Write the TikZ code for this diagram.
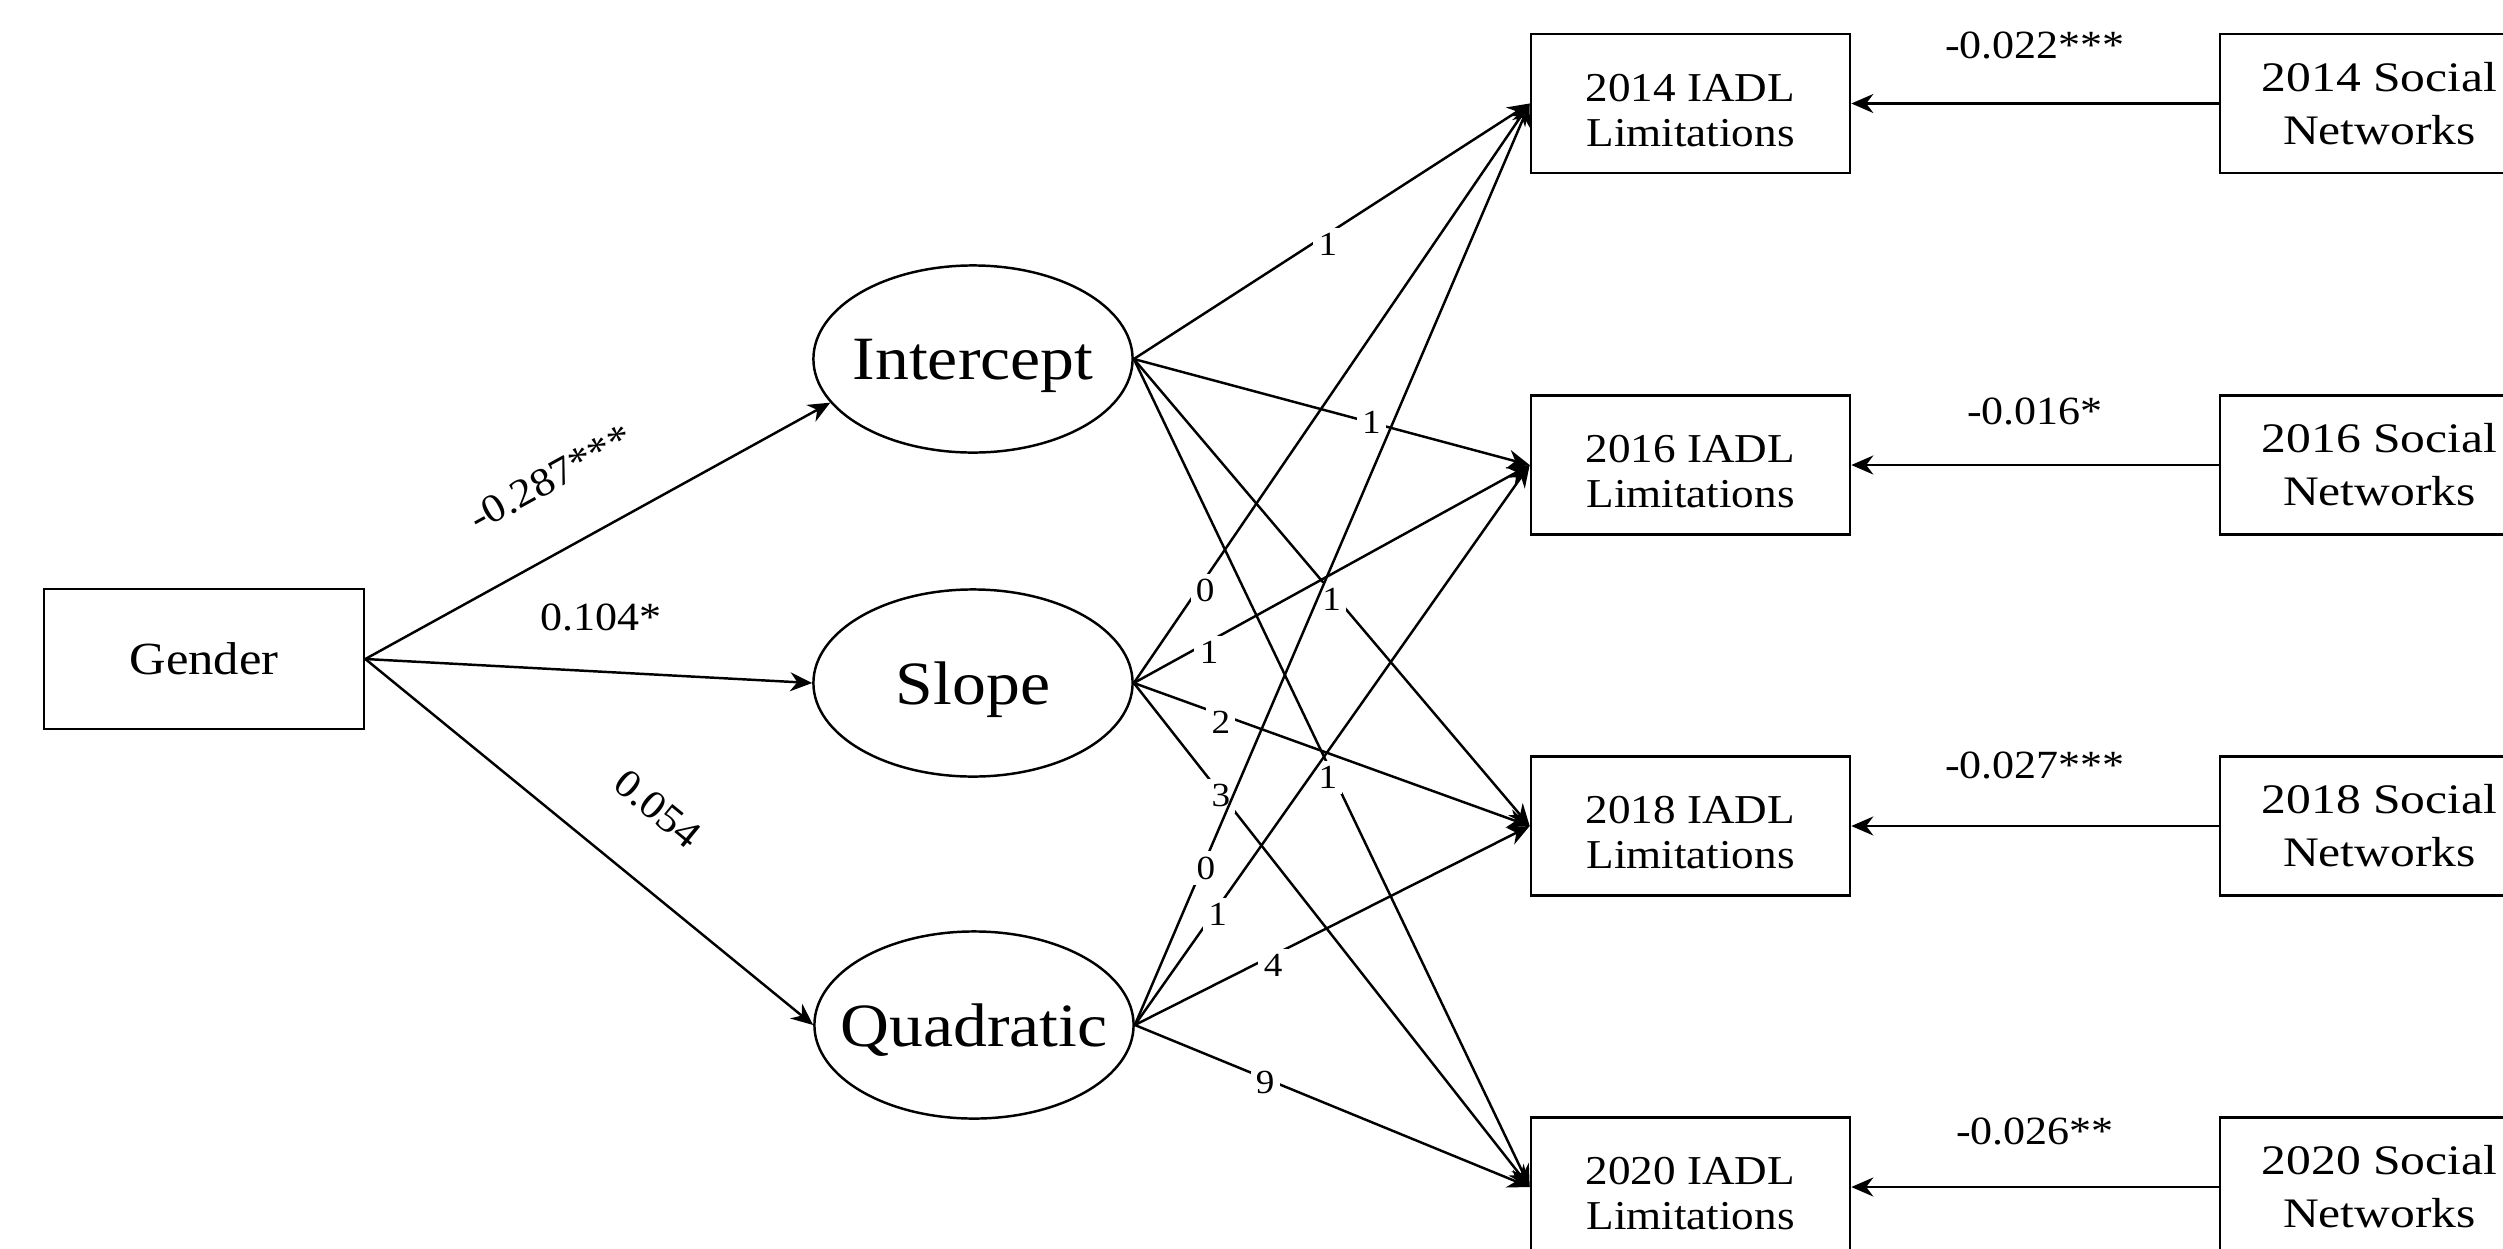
\documentclass[tikz,border=0pt]{standalone}
\usepackage{fontspec}
\setmainfont{Liberation Serif}[FakeStretch=1.1]
\newfontfamily\socfont{Liberation Serif}[FakeStretch=1.18]
\usetikzlibrary{arrows.meta,shapes.geometric}
\begin{document}
\begin{tikzpicture}[x=0.01cm,y=-0.01cm,
  box/.style={draw, line width=0.7pt, rectangle, minimum width=3.19cm, minimum height=1.39cm, inner sep=0pt, align=center},
  iadl/.style={box, font={\fontsize{11.67}{12.8}\selectfont}},
  soc/.style={box, font={\socfont\fontsize{11.95}{15.08}\selectfont}},
  latent/.style={draw, line width=0.7pt, ellipse, minimum width=3.19cm, minimum height=1.87cm, inner sep=0pt, text depth=0pt, font={\fontsize{17.5}{20}\selectfont}},
  arr/.style={line width=0.7pt, -{Stealth[length=0.22cm, width=0.19cm]}},
  coef/.style={fill=white, inner sep=1pt, font={\fontsize{11.38}{13}\selectfont}},
  load/.style={fill=white, inner sep=1.5pt, font={\fontsize{9.6}{11}\selectfont}},
]
\useasboundingbox (0,0) rectangle (2503,1248);
\fill[white] (0,0) rectangle (2503,1248);
\clip (0,0) rectangle (2503,1248);

% nodes
\node[box, minimum width=3.2cm, minimum height=1.4cm, font={\fontsize{13.09}{15}\selectfont}] (gender) at (204,659) {Gender};
\node[latent] (int) at (973,359) {\makebox[0pt]{Intercept}};
\node[latent] (slope) at (973,683) {\makebox[0pt]{Slope}};
\node[latent] (quad) at (974,1025) {\makebox[0pt]{Quadratic}};

\node[iadl] (i14) at (1690.5,103.5) {\rule{0pt}{0.41cm}2014 IADL\\Limitations};
\node[iadl] (i16) at (1690.5,465) {\rule{0pt}{0.41cm}2016 IADL\\Limitations};
\node[iadl] (i18) at (1690.5,826) {\rule{0pt}{0.41cm}2018 IADL\\Limitations};
\node[iadl] (i20) at (1690.5,1187) {\rule{0pt}{0.41cm}2020 IADL\\Limitations};

\node[soc] (s14) at (2379.5,103.5) {2014 Social\\Networks};
\node[soc] (s16) at (2379.5,465) {2016 Social\\Networks};
\node[soc] (s18) at (2379.5,826) {2018 Social\\Networks};
\node[soc] (s20) at (2379.5,1187) {2020 Social\\Networks};

% gender paths
\draw[arr] (gender.east) -- node[coef, sloped, pos=0.47, anchor=south, outer ysep=0.52cm] {-0.287***} (int.197);
\draw[arr] (gender.east) -- node[coef, pos=0.527, anchor=base, yshift=0.41cm] {0.104*} (slope.west);
\draw[arr] (gender.east) -- node[coef, sloped, pos=0.555, anchor=south, outer ysep=0.52cm] {0.054} (quad.west);

% loadings: intercept
\draw[arr] (int.east) -- node[load, pos=0.49, yshift=-0.11cm] {1} (i14.west);
\draw[arr] (int.east) -- node[load, pos=0.60] {1} (i16.west);
\draw[arr] (int.east) -- node[load, pos=0.50, yshift=-0.07cm] {1} (i18.west);
\draw[arr] (int.east) -- node[load, pos=0.49, yshift=-0.13cm] {1} (i20.west);
% slope
\draw[arr] (slope.east) -- node[load, pos=0.18, yshift=-0.12cm] {0} (i14.west);
\draw[arr] (slope.east) -- node[load, pos=0.19, yshift=-0.11cm] {1} (i16.west);
\draw[arr] (slope.east) -- node[load, pos=0.22, yshift=-0.08cm] {2} (i18.west);
\draw[arr] (slope.east) -- node[load, pos=0.22, yshift=-0.02cm] {3} (i20.west);
% quadratic
\draw[arr] (quad.east) -- node[load, pos=0.18, yshift=-0.09cm] {0} (i14.west);
\draw[arr] (quad.east) -- node[load, pos=0.21, yshift=-0.07cm] {1} (i16.west);
\draw[arr] (quad.east) -- node[load, pos=0.35, yshift=-0.10cm] {4} (i18.west);
\draw[arr] (quad.east) -- node[load, pos=0.33, yshift=-0.04cm] {9} (i20.west);

% social networks
\draw[arr] (s14.west) -- node[coef, anchor=base, yshift=0.45cm] {-0.022***} (i14.east);
\draw[arr] (s16.west) -- node[coef, anchor=base, yshift=0.40cm] {-0.016*} (i16.east);
\draw[arr] (s18.west) -- node[coef, anchor=base, yshift=0.47cm] {-0.027***} (i18.east);
\draw[arr] (s20.west) -- node[coef, anchor=base, yshift=0.42cm] {-0.026**} (i20.east);
\end{tikzpicture}
\end{document}
